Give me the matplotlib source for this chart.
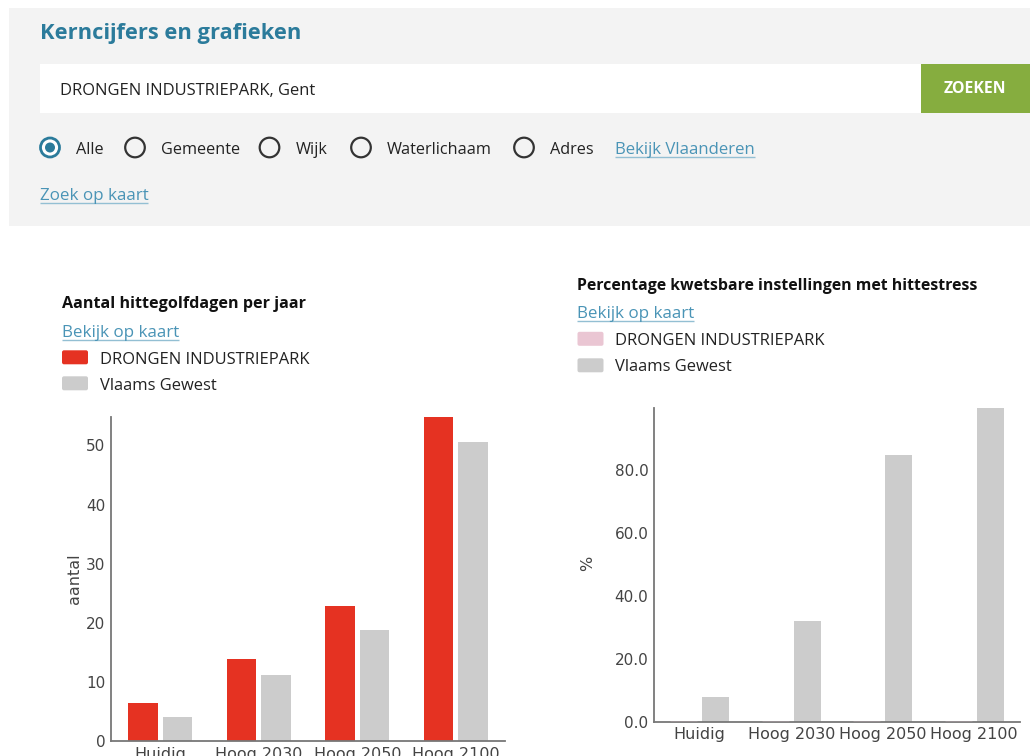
import matplotlib
matplotlib.use('Agg')
import matplotlib.pyplot as plt
from matplotlib.patches import Rectangle, FancyBboxPatch, Circle
import numpy as np

# ---------------- data ----------------
categories = ["Huidig", "Hoog 2030", "Hoog 2050", "Hoog 2100"]
hittegolf_drongen = [6.5, 13.8, 22.8, 54.8]
hittegolf_vlaams = [4.1, 11.1, 18.8, 50.5]
kwetsbaar_drongen = [0.0, 0.0, 0.0, 0.0]
kwetsbaar_vlaams = [7.8, 32.0, 84.8, 99.6]
hittegolf_ticks = [0, 10, 20, 30, 40, 50]
kwetsbaar_ticks = [0, 20, 40, 60, 80]
radio_options = ["Alle", "Gemeente", "Wijk", "Waterlichaam", "Adres"]
search_text = "DRONGEN INDUSTRIEPARK, Gent"
legend_labels = ["DRONGEN INDUSTRIEPARK", "Vlaams Gewest"]

# ---------------- styling ----------------
W, H = 1030, 756
FONT = ['Open Sans', 'DejaVu Sans']
CHART_FONT = 'DejaVu Sans'
TEAL = '#2b7b9b'
LINK = '#4a94b6'
ULINE = '#93bfd3'
TXT = '#222222'
RED = '#e53222'
GREY = '#cccccc'
PINK = '#eac6d3'
AXIS = '#777777'
TICK = '#444444'

fig = plt.figure(figsize=(W / 100, H / 100), dpi=100)
fig.patch.set_facecolor('white')
bg = fig.add_axes([0, 0, 1, 1], zorder=0)
bg.set_xlim(0, W)
bg.set_ylim(H, 0)
bg.axis('off')
renderer = fig.canvas.get_renderer()


def size_for(s, width, weight='normal', base=10):
    t = bg.text(0, 0, s, fontsize=base, family=FONT, weight=weight)
    w = t.get_window_extent(renderer).width
    t.remove()
    return base * width / w


def put(x, y, s, size, color=TXT, weight='normal', ha='left'):
    return bg.text(x, y, s, fontsize=size, family=FONT, weight=weight,
                   color=color, ha=ha, va='baseline')


def link(x, y, s, width, uy):
    put(x, y, s, size_for(s, width), color=LINK)
    bg.plot([x, x + width], [uy, uy], color=ULINE, lw=1.0, solid_capstyle='butt')


# ---------------- header panel ----------------
bg.add_patch(Rectangle((9, 8), W - 9, 218, facecolor='#f3f3f3', edgecolor='none'))
put(40, 39.5, "Kerncijfers en grafieken",
    size_for("Kerncijfers en grafieken", 262, 'bold'), color=TEAL, weight='bold')

bg.add_patch(Rectangle((40, 64), 881, 49, facecolor='white', edgecolor='none'))
put(60, 95, search_text, size_for(search_text, 256))
bg.add_patch(Rectangle((921, 64), W - 921, 49, facecolor='#86ad3f', edgecolor='none'))
put(944, 93, "ZOEKEN", size_for("ZOEKEN", 63, 'bold'), color='white', weight='bold')

# radio buttons
radio_cx = [50, 135, 269.5, 361, 524]
radio_tx = [76, 161, 295.5, 387, 550]
rsize = size_for("Waterlichaam", 105)
for i, (lab, cx, tx) in enumerate(zip(radio_options, radio_cx, radio_tx)):
    if i == 0:
        bg.add_patch(Circle((cx, 147.5), 9.5, facecolor='white', edgecolor=TEAL, lw=2.0))
        bg.add_patch(Circle((cx, 147.5), 5.0, facecolor=TEAL, edgecolor='none'))
    else:
        bg.add_patch(Circle((cx, 147.5), 9.8, facecolor='none', edgecolor='#333333', lw=1.6))
    put(tx, 153.5, lab, rsize)

link(615, 153.5, "Bekijk Vlaanderen", 140, 156.5)
link(40, 200, "Zoek op kaart", 108, 202.5)

# ---------------- chart headers & legends ----------------
lsize = size_for(legend_labels[0], 209)


def header(x, title, title_w, title_y, link_y, sq_y, txt_y, first_color):
    put(x, title_y, title, size_for(title, title_w, 'bold'), color='#111111', weight='bold')
    link(x, link_y, "Bekijk op kaart", 117, link_y + 2.3)
    for col, sy, ty, lab in zip([first_color, GREY], sq_y, txt_y, legend_labels):
        bg.add_patch(FancyBboxPatch((x + 0.5, sy + 0.3), 26, 14,
                                    boxstyle='round,pad=0,rounding_size=2',
                                    facecolor=col, edgecolor='none'))
        put(x + 38, ty, lab, lsize)


header(61.5, "Aantal hittegolfdagen per jaar", 245, 307.7, 337.3,
       [350, 376], [364, 389.5], RED)
header(577, "Percentage kwetsbare instellingen met hittestress", 400, 290, 318.3,
       [331.5, 358], [345, 371], PINK)

# ---------------- charts ----------------
x = np.arange(len(categories))
bw, off = 0.3, 0.175


def style(ax):
    for s in ['top', 'right']:
        ax.spines[s].set_visible(False)
    for s in ['left', 'bottom']:
        ax.spines[s].set_color(AXIS)
        ax.spines[s].set_linewidth(1.3)
    ax.set_facecolor('none')
    ax.tick_params(length=0, pad=4, labelsize=11, labelcolor=TICK)
    ax.tick_params(axis='x', labelsize=11.5)
    for lab in ax.get_xticklabels() + ax.get_yticklabels():
        lab.set_family(CHART_FONT)
    ax.set_xlim(-0.5, len(categories) - 0.5)


ax1 = fig.add_axes([111 / W, 1 - 741 / H, 394 / W, 324 / H], zorder=1)
ax1.bar(x - off, hittegolf_drongen, bw, color=RED, edgecolor='none')
ax1.bar(x + off, hittegolf_vlaams, bw, color=GREY, edgecolor='none')
ax1.set_ylim(0, max(hittegolf_drongen))
ax1.set_yticks(hittegolf_ticks)
ax1.set_xticks(x)
ax1.set_xticklabels(categories)
style(ax1)

ax2 = fig.add_axes([654 / W, 1 - 721.7 / H, 366 / W, 313.4 / H], zorder=1)
ax2.bar(x - off, kwetsbaar_drongen, bw, color=PINK, edgecolor=PINK, lw=1.0, zorder=3)
ax2.bar(x + off, kwetsbaar_vlaams, bw, color=GREY, edgecolor='none')
ax2.set_ylim(0, max(kwetsbaar_vlaams))
ax2.set_yticks(kwetsbaar_ticks)
ax2.set_yticklabels([f"{v:.1f}" for v in kwetsbaar_ticks])
ax2.set_xticks(x)
ax2.set_xticklabels(categories)
style(ax2)

bg.text(74, 579, "aantal", rotation=90, ha='center', va='center',
        fontsize=11.5, color=TICK, family=CHART_FONT)
bg.text(588, 563, "%", rotation=90, ha='center', va='center',
        fontsize=11.5, color=TICK, family=CHART_FONT)

fig.savefig('out.png', dpi=100, facecolor='white')
